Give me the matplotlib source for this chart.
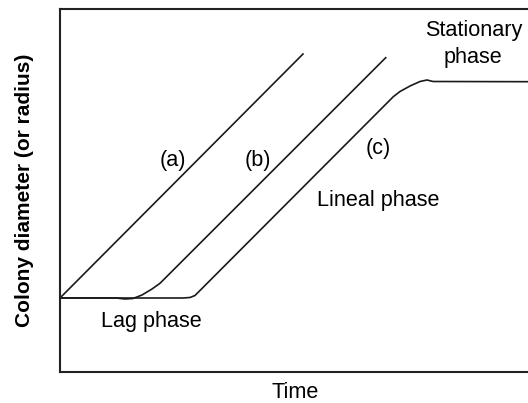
import matplotlib
matplotlib.use("Agg")
import matplotlib.pyplot as plt

plt.rcParams['font.family'] = ['Liberation Sans', 'DejaVu Sans']

# curve data (arbitrary time / diameter units)
t_a = [0, 243]
d_a = [73.5, 317.5]

t_b = [0, 56, 65, 73, 82, 92, 100, 325.7]
d_b = [73.5, 73.5, 72.5, 73, 76.5, 82.5, 88.2, 313.8]

t_c = [0, 123, 130, 135, 333.3, 340, 350, 360, 367, 373, 468]
d_c = [73.5, 73.5, 74, 76, 274.8, 280, 285.5, 290, 291.5, 290, 289.8]

fig = plt.figure(figsize=(5.28, 4.03), dpi=100)
ax = fig.add_axes([60 / 528, (403 - 371.5) / 403, 468 / 528, 362.5 / 403])

for t, d in [(t_a, d_a), (t_b, d_b), (t_c, d_c)]:
    ax.plot(t, d, color='#1a1a1a', lw=1.2, solid_joinstyle='round')

ax.set_xlim(0, 468)
ax.set_ylim(0, 362.5)
ax.set_xticks([])
ax.set_yticks([])
ax.spines['right'].set_visible(False)
for s in ['left', 'top', 'bottom']:
    ax.spines[s].set_linewidth(1.5)
    ax.spines[s].set_color('#222222')

fs = 15.6
ax.text(113.3, 211.5, '(a)', fontsize=fs, ha='center', va='center')
ax.text(198.3, 211.5, '(b)', fontsize=fs, ha='center', va='center')
ax.text(318.3, 223.2, '(c)', fontsize=fs, ha='center', va='center')
ax.text(318.3, 171.5, 'Lineal phase', fontsize=fs, ha='center', va='center')
ax.text(91.7, 50.5, 'Lag phase', fontsize=fs, ha='center', va='center')
ax.text(413.3, 327.3, 'Stationary\nphase', fontsize=fs, ha='center', va='center',
        linespacing=1.35)

fig.text(295 / 528, 1 - 393 / 403, 'Time', fontsize=fs, ha='center', va='center')
fig.text(25 / 528, 1 - 190.5 / 403, 'Colony diameter (or radius)', fontsize=15,
         fontweight='bold', rotation=90, ha='center', va='center')

fig.savefig('out.png', dpi=100)
